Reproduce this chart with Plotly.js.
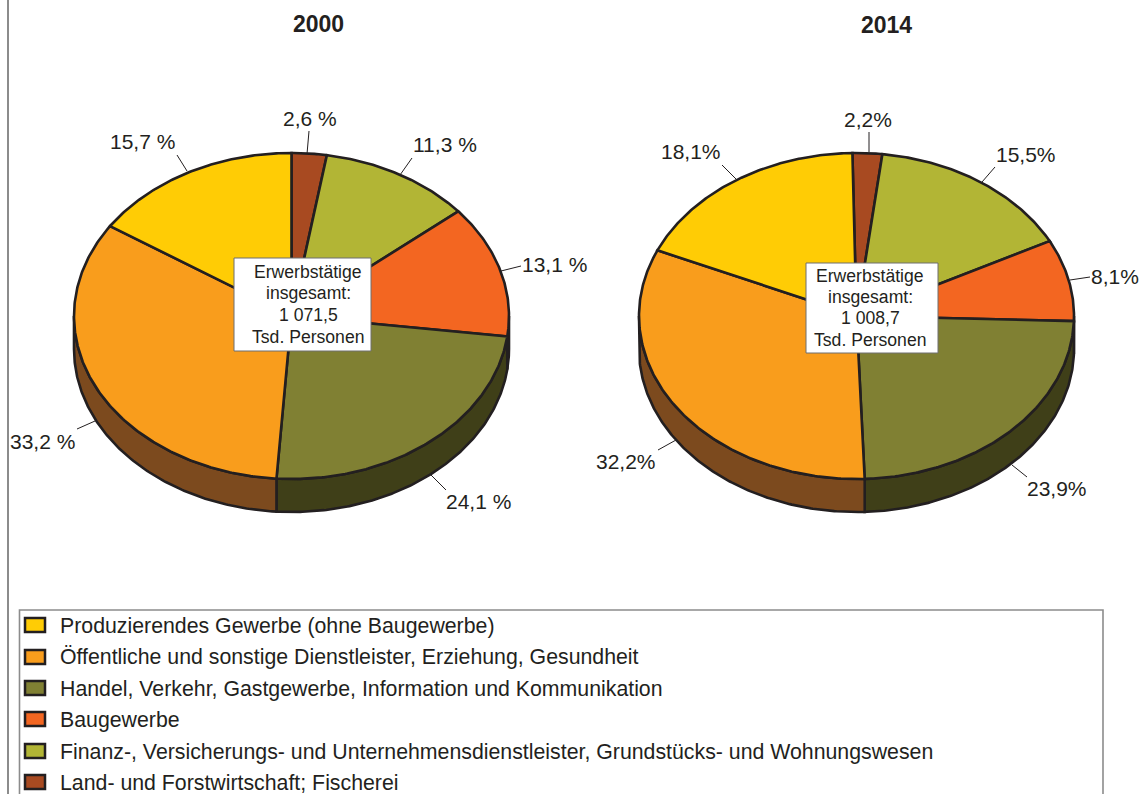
<!DOCTYPE html>
<html><head><meta charset="utf-8">
<script src="https://cdn.plot.ly/plotly-3.0.1.min.js"></script>
<style>html,body{margin:0;padding:0;background:#fff}</style></head>
<body><div id="chart" style="width:1143px;height:794px"></div>
<script>
// ---- data ----
const categories = [
  "Land- und Forstwirtschaft; Fischerei",
  "Finanz-, Versicherungs- und Unternehmensdienstleister, Grundstücks- und Wohnungswesen",
  "Baugewerbe",
  "Handel, Verkehr, Gastgewerbe, Information und Kommunikation",
  "Öffentliche und sonstige Dienstleister, Erziehung, Gesundheit",
  "Produzierendes Gewerbe (ohne Baugewerbe)"
];
const values2000 = [2.6, 11.3, 13.1, 24.1, 33.2, 15.7];
const values2014 = [2.2, 15.5, 8.1, 23.9, 32.2, 18.1];
const years = ["2000", "2014"];
const totals = ["1 071,5", "1 008,7"];
const legendOrder = [5, 4, 3, 2, 1, 0];

// ---- styling and placement ----
const topColors  = ["#A84A21", "#B2B535", "#F36621", "#808033", "#F99D1C", "#FFCC05"];
const wallColors = ["#5A2810", "#5C5E1A", "#3F3F18", "#3F3F18", "#7C4A1E", "#7C4A1E"];
const INK = "#231F20", GREY = "#8C8C8C", FONT = "Liberation Sans, Arial, sans-serif";
const RX = 217.5, RY = 163, DEPTH = 33;
const pies = [
  { values: values2000, cx: 291.5, cy: 316, startPct: 0, suffix: " %", titleX: 318, titleY: 24,
    box: [234, 258, 371, 351], boxTextX: 308,
    labelXY: [[310,118],[445,144],[554,264],[478,501],[42,441],[142,141]],
    leaders: [[[307,154],[309,131]],[[400,175],[412,158]],[[501,271],[521,266]],[[431,475],[446,490]],[[95,421],[77,429]],[[187,171],[177,155]]] },
  { values: values2014, cx: 856.5, cy: 316, startPct: -0.3, suffix: "%", titleX: 886, titleY: 25,
    box: [806, 263, 938, 353], boxTextX: 870,
    labelXY: [[868,119],[1026,154],[1115,276],[1057,488],[626,461],[691,151]],
    leaders: [[[869,152],[869,132]],[[982,182],[995,167]],[[1070,280],[1090,277]],[[1012,465],[1027,477]],[[676,440],[658,450]],[[736,179],[722,165]]] }
];
const legendRowsY = [626, 657, 689, 720, 752, 783];
const swatchRowsY = [625, 657, 688, 719, 751, 782];

// ---- build ----
const traces = [], shapes = [], annotations = [];
function text(x, y, t, size, extra) {
  annotations.push(Object.assign({ x, y, xref: "x", yref: "y", text: t, showarrow: false,
    xanchor: "center", yanchor: "middle", font: { family: FONT, size, color: INK } }, extra || {}));
}
function arc(p, a, b, dy) {
  const xs = [], ys = [], n = Math.max(2, Math.ceil((b - a) / 0.01));
  for (let i = 0; i <= n; i++) {
    const t = a + (b - a) * i / n;
    xs.push(p.cx + RX * Math.sin(t));
    ys.push(p.cy + dy - RY * Math.cos(t));
  }
  return [xs, ys];
}
const TAU = Math.PI * 2;
pies.forEach(p => {
  let acc = p.startPct;
  const spans = p.values.map(v => { const s = [acc / 100 * TAU, (acc + v) / 100 * TAU]; acc += v; return s; });
  // side walls: only the part of each slice facing the viewer
  spans.forEach((s, i) => {
    const a = Math.max(s[0], Math.PI / 2), b = Math.min(s[1], 1.5 * Math.PI);
    if (b <= a) return;
    const [tx, ty] = arc(p, a, b, 0), [bx, by] = arc(p, a, b, DEPTH);
    traces.push({ type: "scatter", mode: "lines", x: tx.concat(bx.reverse(), [tx[0]]), y: ty.concat(by.reverse(), [ty[0]]),
      fill: "toself", fillcolor: wallColors[i], line: { color: INK, width: 2.6 }, hoverinfo: "skip", showlegend: false });
  });
  // top faces
  spans.forEach((s, i) => {
    const [ax, ay] = arc(p, s[0], s[1], 0);
    traces.push({ type: "scatter", mode: "lines", name: categories[i],
      x: [p.cx].concat(ax, [p.cx]), y: [p.cy].concat(ay, [p.cy]),
      fill: "toself", fillcolor: topColors[i], line: { color: INK, width: 2.6 }, hoverinfo: "name", showlegend: false });
  });
  // leaders and value labels
  p.values.forEach((v, i) => {
    const L = p.leaders[i];
    traces.push({ type: "scatter", mode: "lines", x: [L[0][0], L[1][0]], y: [L[0][1], L[1][1]],
      line: { color: INK, width: 1 }, hoverinfo: "skip", showlegend: false });
    text(p.labelXY[i][0], p.labelXY[i][1], v.toFixed(1).replace(".", ",") + p.suffix, 21);
  });
});
pies.forEach((p, k) => {
  text(p.titleX, p.titleY, "<b>" + years[k] + "</b>", 23);
  const b = p.box;
  shapes.push({ type: "rect", xref: "x", yref: "y", x0: b[0], y0: b[1], x1: b[2], y1: b[3],
    fillcolor: "#fff", line: { color: "#6E6E6E", width: 1 }, layer: "above" });
  const lines = ["Erwerbstätige", "insgesamt:", totals[k], "Tsd. Personen"];
  const step = (b[3] - b[1]) / 4.25;
  lines.forEach((l, i) => text(p.boxTextX, b[1] + step * (i + 0.62), l, 17.6));
});
// frame
shapes.push({ type: "line", xref: "x", yref: "y", x0: 8, x1: 8, y0: 0, y1: 794, line: { color: GREY, width: 2 } });
shapes.push({ type: "rect", xref: "x", yref: "y", x0: 19.5, x1: 1103, y0: 610, y1: 820, line: { color: GREY, width: 1.6 }, fillcolor: "rgba(0,0,0,0)" });
// legend
legendOrder.forEach((c, r) => {
  const y = swatchRowsY[r];
  shapes.push({ type: "rect", xref: "x", yref: "y", x0: 25, x1: 45, y0: y - 7, y1: y + 7,
    fillcolor: topColors[c], line: { color: INK, width: 2.5 } });
  text(58, legendRowsY[r], categories[c], 21.3, { xanchor: "left" });
});

Plotly.newPlot("chart", traces, {
  width: 1143, height: 794, margin: { l: 0, r: 0, t: 0, b: 0 },
  paper_bgcolor: "#fff", plot_bgcolor: "#fff", showlegend: false, hovermode: "closest",
  xaxis: { range: [0, 1143], visible: false, fixedrange: true },
  yaxis: { range: [794, 0], visible: false, fixedrange: true },
  shapes, annotations
}, { displayModeBar: false, staticPlot: true });
</script></body></html>
